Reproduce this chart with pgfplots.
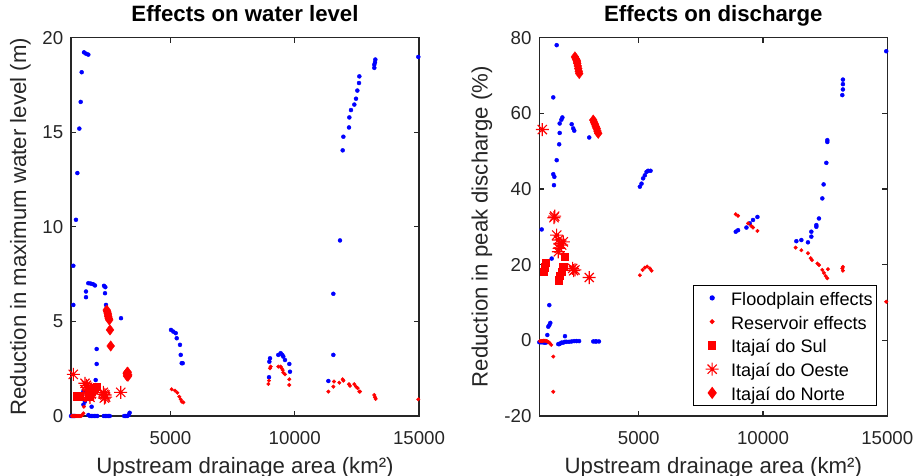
\documentclass[border=0pt]{standalone}
\usepackage{fontspec}
\setmainfont{Liberation Sans}
\usepackage{pgfplots}
\pgfplotsset{compat=1.18}
\definecolor{mblue}{RGB}{0,0,255}
\definecolor{mred}{RGB}{255,0,0}
\definecolor{axgray}{RGB}{38,38,38}
\pgfdeclareplotmark{mstar}{%
  \pgfpathmoveto{\pgfqpoint{-\pgfplotmarksize}{0pt}}\pgfpathlineto{\pgfqpoint{\pgfplotmarksize}{0pt}}%
  \pgfpathmoveto{\pgfqpoint{0pt}{-\pgfplotmarksize}}\pgfpathlineto{\pgfqpoint{0pt}{\pgfplotmarksize}}%
  \pgfpathmoveto{\pgfqpoint{-0.7071\pgfplotmarksize}{-0.7071\pgfplotmarksize}}\pgfpathlineto{\pgfqpoint{0.7071\pgfplotmarksize}{0.7071\pgfplotmarksize}}%
  \pgfpathmoveto{\pgfqpoint{-0.7071\pgfplotmarksize}{0.7071\pgfplotmarksize}}\pgfpathlineto{\pgfqpoint{0.7071\pgfplotmarksize}{-0.7071\pgfplotmarksize}}%
  \pgfusepathqstroke}
\pgfplotsset{
  mstyle/.style={scale only axis, width=348pt, height=378.4pt,
    xmin=1000, xmax=15000, xtick={5000,10000,15000}, scaled x ticks=false,
    tick align=inside, major tick length=5pt,
    axis line style={axgray, line width=1.2pt}, tick style={axgray, line width=1.2pt},
    /pgf/number format/1000 sep={}, /pgf/number format/assume math mode=true,
    tick label style={font=\fontsize{18.7}{22}\selectfont, text=axgray},
    xticklabel style={anchor=base, yshift=-29pt},
    yticklabel style={anchor=east, inner sep=0pt, xshift=-7.6pt},
    label style={font=\fontsize{22.2}{26}\selectfont, text=axgray},
    title style={font=\fontsize{22.2}{26}\selectfont\bfseries, at={(axis description cs:0.5,1.0264)}, anchor=base},
    xlabel style={at={(axis description cs:0.5,-0.1507)}, anchor=base},
    clip=false},
  fp/.style={only marks, mark=*, mark size=2pt, mblue, mark options={draw=none, fill=mblue}},
  rs/.style={only marks, mark=*, mark size=1.8pt, mred, mark options={draw=none, fill=mred}},
  sul/.style={only marks, mark=square*, mark size=3.6pt, mred, mark options={draw=mred, fill=mred}},
  oes/.style={only marks, mark=mstar, mark size=6.5pt, mred, line width=1.1pt},
  nor/.style={only marks, mark=diamond*, mark size=5.2pt, mred, mark options={draw=mred, fill=mred}},
}
\begin{document}
\begin{tikzpicture}
\path[use as bounding box] (0,0) rectangle (921pt,476pt);
\begin{axis}[mstyle, at={(71pt,60pt)}, anchor=south west,
  ymin=0, ymax=20, ytick={0,5,10,15,20},
  title={Effects on water level},
  xlabel={Upstream drainage area (km²)},
  ylabel={Reduction in maximum water level (m)},
  ylabel style={at={(axis description cs:-0.1293,0.5)}, anchor=base}]
\addplot[fp] coordinates {
(1000,0)(1040,0)(1080,0)(1120,0)(1160,0)(1700,0.05)(1760,0)(1820,0)(1880,0)(1940,0)(2000,0)(2060,0)
(2320,0)(2380,0)(2440,0)(2500,0)(2560,0)(3140,0)(3200,0)(3260,0)(3320,0.05)(3360,0.17)
(1093,5.87)(1093,7.94)(1200,10.37)(1255,12.84)(1335,15.19)(1390,16.6)(1430,18.17)(1523,19.22)(1603,19.15)(1696,19.1)
(1603,6.58)(1603,6.28)(1696,7.02)(1790,7.0)(1885,6.97)(1965,6.9)
(2328,6.88)(2380,6.81)(2368,6.49)(2408,5.87)
(2033,3.54)(2033,2.75)(1993,1.9)(1830,0.49)(1496,1.29)(1560,0.76)(1500,0.6)
(3012,5.17)
(5023,4.55)(5116,4.46)(5213,4.38)(5253,4.11)(5385,3.76)(5414,3.23)(5454,2.79)(5494,2.79)
(8966,2.05)(8980,2.87)(9006,3.05)(9340,3.23)(9436,3.32)(9500,3.23)(9541,3.14)(9609,2.96)(9782,2.75)(9810,2.34)
(11353,1.85)(11554,3.23)(11554,6.46)(11822,9.28)(11930,14.04)(11957,14.76)(12184,15.25)(12197,15.78)(12264,16.17)
(12398,16.46)(12466,16.77)(12519,17.2)(12587,17.6)(12600,17.95)(13202,18.4)(13202,18.57)(13230,18.7)(13243,18.84)(14972,18.98)
};
\addplot[rs] coordinates {
(1040,0)(1080,0)(1120,0)(1160,0)(1200,0)(1240,0)(1280,0)(1320,0)(1360,0)(1400,0)(1440,0.03)(1496,0.14)(1520,0.49)(1560,0.85)(1600,0.95)
(5050,1.41)(5184,1.34)(5277,1.23)(5358,1.02)(5414,0.88)(5454,0.76)(5518,0.72)
(8940,1.69)(8966,1.87)(9006,2.52)(9034,2.61)(9340,2.61)(9436,2.61)(9476,2.52)(9516,2.43)(9541,2.29)(9609,2.2)(9782,1.94)(9782,1.64)
(11353,1.29)(11554,1.55)(11580,1.82)(11795,1.76)(11930,1.94)(11957,1.87)(12184,1.68)(12224,1.59)(12398,1.68)(12466,1.55)
(12533,1.47)(12600,1.29)(12627,1.29)(13202,1.11)(13230,0.99)(13257,0.9)(14972,0.88)
};
\addplot[sul] coordinates {
(1229,1.05)(1362,1.05)(1700,1.1)(1730,1.0)(1760,1.2)(1830,1.3)(1900,1.4)(1960,1.5)(2030,1.55)
};
\addplot[oes] coordinates {
(1093,2.2)(1563,1.73)(1620,1.62)(1670,1.52)(1700,1.42)(1724,1.34)(1760,1.25)(1805,1.16)(1764,0.99)(1740,1.1)
(2300,1.25)(2320,1.15)(2340,0.95)(2368,1.11)(2390,1.0)(3000,1.25)
};
\addplot[nor] coordinates {
(2436,5.6)(2456,5.52)(2476,5.43)(2490,5.34)(2500,5.25)(2520,5.16)(2541,5.08)(2569,4.55)(2597,3.7)
(3240,2.26)(3270,2.2)(3305,2.17)(3260,2.3)(3290,2.1)(3280,2.32)(3250,2.12)
};
\end{axis}
\begin{axis}[mstyle, at={(539.3pt,60pt)}, anchor=south west,
  ymin=-20, ymax=80, ytick={-20,0,20,40,60,80},
  title={Effects on discharge},
  xlabel={Upstream drainage area (km²)},
  ylabel={Reduction in peak discharge (\%)},
  ylabel style={at={(axis description cs:-0.1487,0.5)}, anchor=base},
  legend style={at={(axis description cs:0.9713,0.0264)}, anchor=south east, draw=black, line width=1.2pt, fill=white,
    inner xsep=4pt, inner ysep=4pt, row sep=6.75pt, column sep=12.4pt,
    font=\fontsize{18.1}{22}\selectfont, nodes={inner sep=0pt, text height=16pt, text depth=1pt}},
  legend cell align=left,
  legend image code/.code={\path (-14pt,0pt) (6pt,0pt); \draw[#1] plot coordinates {(0pt,0pt)};}]
\addplot[fp] coordinates {
(1699,78.0)(1562,64.2)(1820,54.8)(1800,51.8)(1700,47.6)(1562,43.9)(1605,43.2)(1590,41.0)(1820,57.3)(1888,58.3)(1928,58.9)
(2302,57.1)(2366,56.0)(2406,55.4)(3009,53.6)(1096,29.3)(1498,21.6)(1402,9.3)(1362,3.6)(1402,4.0)(1442,4.6)(1322,1.4)(2033,1.1)
(1000,-0.5)(1040,-0.5)(1080,-0.5)(1120,-0.5)(1160,-0.5)(1200,-0.6)(1250,-0.6)(1300,-0.5)(1763,-1.0)(1800,-1.0)(1850,-0.8)
(1900,-0.6)(1964,-0.6)(2033,-0.4)(2100,-0.4)(2200,-0.4)(2300,-0.3)(2400,-0.2)(2500,-0.2)(2600,-0.2)(3170,-0.3)(3250,-0.3)(3300,-0.3)(3400,-0.3)
(5046,40.6)(5113,41.4)(5177,42.8)(5245,43.6)(5313,44.5)(5378,44.8)(5475,44.8)
(8903,28.7)(8995,29.1)(9333,29.8)(9466,30.9)(9598,31.8)(9775,32.6)
(11341,26.2)(11542,26.5)(11808,25.9)(11944,27.4)(11944,28.7)(12145,30.0)(12145,30.45)(12250,32.2)(12386,37.5)(12438,41.2)
(12547,46.9)(12587,52.4)(12587,52.9)(13190,64.8)(13214,66.3)(13214,67.7)(13214,68.9)(14957,76.4)
};
\addlegendentry{Floodplain effects}
\addplot[rs] coordinates {
(1030,-0.2)(1080,-0.2)(1130,-0.2)(1180,-0.1)(1230,-0.1)(1280,-0.2)(1330,-0.3)(1380,-0.5)(1430,-0.8)(1480,-1.2)(1562,-4.3)(1562,-13.6)
(5046,17.2)(5154,18.6)(5245,19.2)(5338,19.5)(5447,19.0)(5515,18.4)
(8903,33.3)(8995,32.9)(9400,30.9)(9530,30.2)(9598,29.8)(9775,28.9)
(11313,24.5)(11542,23.8)(11808,23.0)(11916,21.7)(11969,21.2)(12185,20.3)(12250,19.9)(12386,18.6)(12451,17.8)(12519,17.0)
(12587,16.4)(12612,18.8)(13190,19.0)(13214,19.4)(13214,18.4)(14957,10.2)
};
\addlegendentry{Reservoir effects}
\addplot[sul] coordinates {
(1189,18.1)(1229,19.3)(1269,20.5)(2033,22.1)(1964,19.4)(1900,18.1)(1832,17.0)(1791,15.9)
};
\addlegendentry{Itajaí do Sul}
\addplot[oes] coordinates {
(1120,55.7)(1591,32.4)(1620,32.8)(1699,27.8)(1763,26.5)(1832,25.6)(1800,24.3)(1763,23.4)(1964,26.0)(1900,25.2)
(2342,19.0)(2380,18.4)(2434,18.6)(3009,16.6)
};
\addlegendentry{Itajaí do Oeste}
\addplot[nor] coordinates {
(2434,74.9)(2470,74.4)(2502,74.0)(2515,73.6)(2527,73.2)(2547,72.5)(2567,71.8)(2587,71.1)(2607,70.5)
(3170,58.2)(3204,57.6)(3238,57.1)(3272,56.5)(3306,56.0)(3338,55.3)(3370,54.7)
};
\addlegendentry{Itajaí do Norte}
\end{axis}
\end{tikzpicture}
\end{document}
